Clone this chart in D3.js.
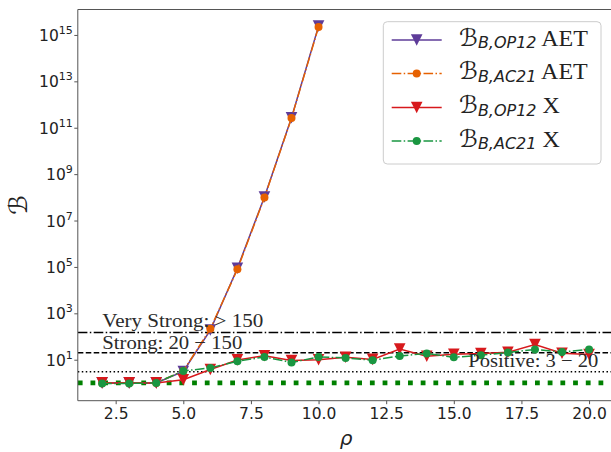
<!DOCTYPE html>
<html><head><meta charset="utf-8">
<script src="https://cdn.jsdelivr.net/npm/d3@7"></script>
<style>html,body{margin:0;padding:0;background:#fff;}svg{display:block;}</style>
</head><body>
<svg id="chart" width="611" height="452"></svg>
<script>
// ---- data ----
const rho = [2,3,4,5,6,7,8,9,10,11,12,13,14,15,16,17,18,19,20];
const rhoAET = [2,3,4,5,6,7,8,9,10];
const bOP12_AET = [1.0, 1.0, 1.0, 3.1, 190, 8.8e4, 1.04e8, 2.7e11, 2.4e15];
const bAC21_AET = [1.0, 1.0, 1.0, 3.3, 215, 7.9e4, 9.8e7, 2.6e11, 2.2e15];
const bOP12_X = [1.0, 1.0, 1.0, 1.37, 3.8, 9.8, 14.9, 9.2, 10, 12.8, 10.3, 28.9, 14.2, 17.3, 18.5, 21, 45, 19, 16.8];
const bAC21_X = [0.95, 0.95, 1.0, 3.3, 4.4, 8.6, 13.2, 7.6, 13.2, 12, 9.5, 14.6, 18.5, 12.8, 15.6, 20.4, 27.5, 21.7, 27.5];
const thresholds = [150, 20, 3];
const thresholdLabels = ["Very Strong: > 150", "Strong: 20 \u2212 150", "Positive: 3 \u2212 20"];
const baseline = 1;
const xTicks = [2.5, 5.0, 7.5, 10.0, 12.5, 15.0, 17.5, 20.0];
const yTickExp = [1, 3, 5, 7, 9, 11, 13, 15];
const seriesNames = ["OP12", "AC21", "OP12", "AC21"];
const seriesSuffix = ["AET", "AET", "X", "X"];

// ---- layout ----
const L = 77.8, R = 613.4, T = 9.5, B = 400.7;
const svg = d3.select("#chart");
const x = d3.scaleLinear().domain([1.1, 20.9]).range([L, R]);
const y = d3.scaleLog().domain([Math.pow(10, -0.7666), Math.pow(10, 16.0966)]).range([B, T]);

const colors = {purple: "#5e3c99", orange: "#e66101", red: "#d7191c", green: "#1a9641"};
const dashdot = "9.6,2.4,1.5,2.4";

svg.append("defs").append("clipPath").attr("id", "clip")
  .append("rect").attr("x", L).attr("y", T).attr("width", R - L).attr("height", B - T);

const plot = svg.append("g").attr("clip-path", "url(#clip)");

// threshold lines
const thrStyles = [dashdot, "5.55,2.4", "1.5,2.475"];
thresholds.forEach((t, i) => {
  plot.append("line").attr("x1", L).attr("x2", R).attr("y1", y(t)).attr("y2", y(t))
    .attr("stroke", "#000").attr("stroke-width", 1.5).attr("stroke-dasharray", thrStyles[i]);
});
plot.append("line").attr("x1", L).attr("x2", R).attr("y1", y(baseline)).attr("y2", y(baseline))
  .attr("stroke", "#008000").attr("stroke-width", 4.8).attr("stroke-dasharray", "4.8,7.9");

const tri = s => `M${-s},${-s}L${s},${-s}L0,${s}Z`;
function drawSeries(xs, ys, color, dash, marker) {
  const line = d3.line().x((d, i) => x(xs[i])).y(d => y(d));
  plot.append("path").datum(ys).attr("d", line).attr("fill", "none")
    .attr("stroke", color).attr("stroke-width", 1.5)
    .attr("stroke-dasharray", dash || null);
  const g = plot.append("g");
  ys.forEach((v, i) => {
    if (marker === "v") {
      g.append("path").attr("d", tri(5.8)).attr("transform", `translate(${x(xs[i])},${y(v)})`).attr("fill", color);
    } else {
      g.append("circle").attr("cx", x(xs[i])).attr("cy", y(v)).attr("r", 4).attr("fill", color);
    }
  });
}
drawSeries(rhoAET, bOP12_AET, colors.purple, null, "v");
drawSeries(rhoAET, bAC21_AET, colors.orange, dashdot, "o");
drawSeries(rho, bOP12_X, colors.red, null, "v");
drawSeries(rho, bAC21_X, colors.green, dashdot, "o");

// threshold annotations
const annFont = "'Liberation Serif', 'DejaVu Serif', serif";
const ann = [
  {t: thresholdLabels[0], x: 102.3, y: 327.3, w: 161},
  {t: thresholdLabels[1], x: 102.3, y: 349.3, w: 140},
  {t: thresholdLabels[2], x: 468.3, y: 366.7, w: 130}
];
ann.forEach(a => {
  svg.append("text").attr("x", a.x).attr("y", a.y).text(a.t)
    .attr("font-family", annFont).attr("font-size", 19).attr("fill", "#2a2a2a")
    .attr("textLength", a.w).attr("lengthAdjust", "spacingAndGlyphs");
});

// axes
const axisColor = "#555";
const xAxis = svg.append("g").attr("transform", `translate(0,${B})`)
  .call(d3.axisBottom(x).tickValues(xTicks).tickFormat(d3.format(".1f")).tickSize(3.5).tickPadding(4));
xAxis.select(".domain").remove();
xAxis.selectAll("line").attr("stroke", axisColor);
xAxis.selectAll("text").attr("font-family", "'DejaVu Sans', sans-serif").attr("font-size", 15.5).attr("fill", "#222");

const yAxis = svg.append("g").attr("transform", `translate(${L},0)`)
  .call(d3.axisLeft(y).tickValues(yTickExp.map(e => Math.pow(10, e))).tickFormat("").tickSize(3.5));
yAxis.select(".domain").remove();
yAxis.selectAll("line").attr("stroke", axisColor);
yAxis.selectAll(".tick").each(function(d) {
  const e = Math.round(Math.log10(d));
  const t = d3.select(this).append("text").attr("x", -5).attr("y", 5.5)
    .attr("text-anchor", "end").attr("fill", "#222")
    .attr("font-family", "'DejaVu Sans', sans-serif").attr("font-size", 15.5);
  t.append("tspan").text("10");
  t.append("tspan").attr("dy", -7).attr("font-size", 11).text(String(e));
});

// spines
svg.append("line").attr("x1", L).attr("x2", L).attr("y1", T).attr("y2", B).attr("stroke", axisColor).attr("stroke-width", 1);
svg.append("line").attr("x1", L).attr("x2", R).attr("y1", B).attr("y2", B).attr("stroke", axisColor).attr("stroke-width", 1);
svg.append("line").attr("x1", L).attr("x2", R).attr("y1", T).attr("y2", T).attr("stroke", axisColor).attr("stroke-width", 1);

// axis labels
svg.append("text").attr("x", 346).attr("y", 445).attr("text-anchor", "middle")
  .attr("font-family", "'DejaVu Sans', sans-serif").attr("font-style", "italic").attr("font-size", 20).attr("fill", "#222").text("\u03C1");
svg.append("text").attr("transform", "translate(27,205) rotate(-90)").attr("text-anchor", "middle")
  .attr("font-family", "'DejaVu Sans', sans-serif").attr("font-size", 25).attr("fill", "#222").text("\u212C");

// legend
const lg = svg.append("g");
lg.append("rect").attr("x", 383.3).attr("y", 21.7).attr("width", 217.7).attr("height", 142.3).attr("rx", 4)
  .attr("fill", "#fff").attr("fill-opacity", 0.8).attr("stroke", "#ccc").attr("stroke-width", 1);
const legColors = [colors.purple, colors.orange, colors.red, colors.green];
const legDash = [null, dashdot, null, dashdot];
const legMarker = ["v", "o", "v", "o"];
[40, 73.5, 107.5, 141].forEach((cy, i) => {
  lg.append("line").attr("x1", 391.7).attr("x2", 441.7).attr("y1", cy).attr("y2", cy)
    .attr("stroke", legColors[i]).attr("stroke-width", 1.5).attr("stroke-dasharray", legDash[i]);
  if (legMarker[i] === "v") lg.append("path").attr("d", tri(5.8)).attr("transform", `translate(416.7,${cy})`).attr("fill", legColors[i]);
  else lg.append("circle").attr("cx", 416.7).attr("cy", cy).attr("r", 4).attr("fill", legColors[i]);
  const t = lg.append("text").attr("x", 459).attr("y", cy + 5.7).attr("fill", "#222");
  t.append("tspan").attr("font-family", "'DejaVu Sans', sans-serif").attr("font-size", 24).text("\u212C");
  t.append("tspan").attr("dy", 2.6).attr("font-family", "'DejaVu Sans', sans-serif").attr("font-style", "italic").attr("font-size", 16).text("B," + seriesNames[i]);
  t.append("tspan").attr("dy", -2.6).attr("font-family", annFont).attr("font-size", 24).text(" " + seriesSuffix[i]);
});
</script>
</body></html>
